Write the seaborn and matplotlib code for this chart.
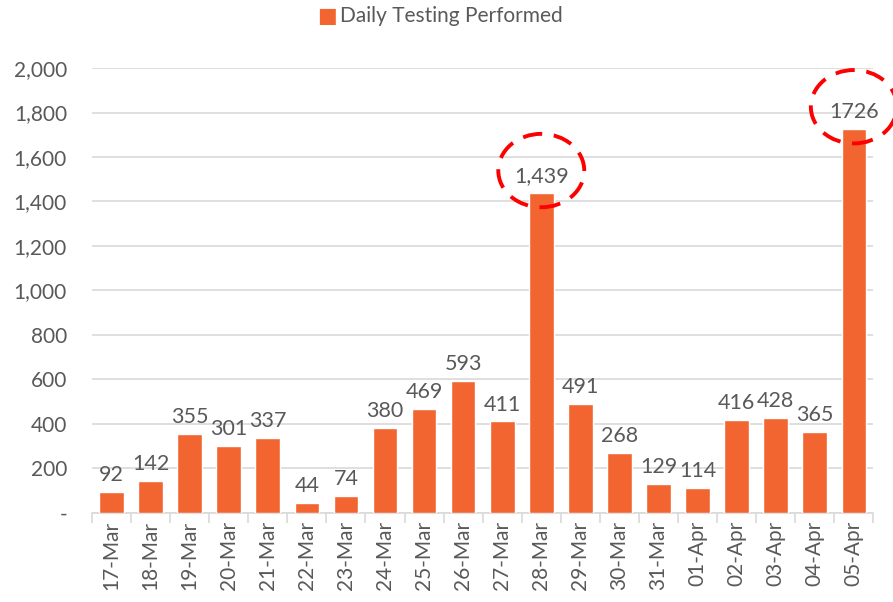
import matplotlib
matplotlib.use('Agg')
import matplotlib.pyplot as plt
from matplotlib.patches import Ellipse
from matplotlib.ticker import FuncFormatter, FixedLocator
import pandas as pd
import seaborn as sns

sns.set_theme(style='white')
plt.rcParams['font.family'] = ['Lato', 'DejaVu Sans']

# データ
dates = ['17-Mar', '18-Mar', '19-Mar', '20-Mar', '21-Mar', '22-Mar', '23-Mar',
         '24-Mar', '25-Mar', '26-Mar', '27-Mar', '28-Mar', '29-Mar', '30-Mar',
         '31-Mar', '01-Apr', '02-Apr', '03-Apr', '04-Apr', '05-Apr']
tests = [92, 142, 355, 301, 337, 44, 74, 380, 469, 593, 411, 1439, 491, 268,
         129, 114, 416, 428, 365, 1726]
value_labels = ['92', '142', '355', '301', '337', '44', '74', '380', '469', '593',
                '411', '1,439', '491', '268', '129', '114', '416', '428', '365', '1726']
highlight = ['28-Mar', '05-Apr']

df = pd.DataFrame({'date': dates, 'tests': tests})

bar_color = '#F26531'
text_color = '#595959'
grid_color = '#D9D9D9'

fig = plt.figure(figsize=(8.93, 6.02), dpi=100)
ax = fig.add_axes([0.103, 0.148, 0.875, 0.739])

sns.barplot(data=df, x='date', y='tests', color=bar_color, width=0.63,
            saturation=1, ax=ax, zorder=3)

ax.set_ylim(0, 2000)
ax.set_xlim(-0.5, len(dates) - 0.5)
ax.set_yticks(range(0, 2001, 200))
ax.yaxis.set_major_formatter(FuncFormatter(lambda v, p: '-' if v == 0 else f'{int(v):,}'))
ax.yaxis.grid(True, color=grid_color, linewidth=1.2, zorder=0)
ax.set_axisbelow(True)

for s in ['left', 'right', 'top']:
    ax.spines[s].set_visible(False)
ax.spines['bottom'].set_color(grid_color)
ax.spines['bottom'].set_linewidth(1.2)

ax.set_xlabel('')
ax.set_ylabel('')
ax.tick_params(axis='y', length=0, labelsize=15, labelcolor=text_color, pad=18)
ax.tick_params(axis='x', which='major', length=0, labelsize=15, labelcolor=text_color,
               rotation=90, pad=6)
ax.xaxis.set_minor_locator(FixedLocator([i - 0.5 for i in range(len(dates) + 1)]))
ax.tick_params(axis='x', which='minor', bottom=True, length=7, width=1.2, color=grid_color)

# 数値ラベル
for i, (v, lab) in enumerate(zip(tests, value_labels)):
    ax.annotate(lab, (i, v), xytext=(0, 5), textcoords='offset points',
                ha='center', va='bottom', fontsize=15.5, color=text_color)

# 赤い点線の楕円
for d in highlight:
    i = dates.index(d)
    v = tests[i]
    e = Ellipse((i, v + 100), width=2.2, height=330, fill=False, edgecolor='#FF0000',
                linestyle=(0, (5, 3)), linewidth=2.8, clip_on=False, zorder=5)
    ax.add_patch(e)

# 凡例
fig.text(0.366, 0.973, '■', color=bar_color, fontsize=15, ha='center', va='center')
fig.text(0.381, 0.973, 'Daily Testing Performed', color=text_color, fontsize=15,
         ha='left', va='center')

fig.savefig('out.png', dpi=100)
